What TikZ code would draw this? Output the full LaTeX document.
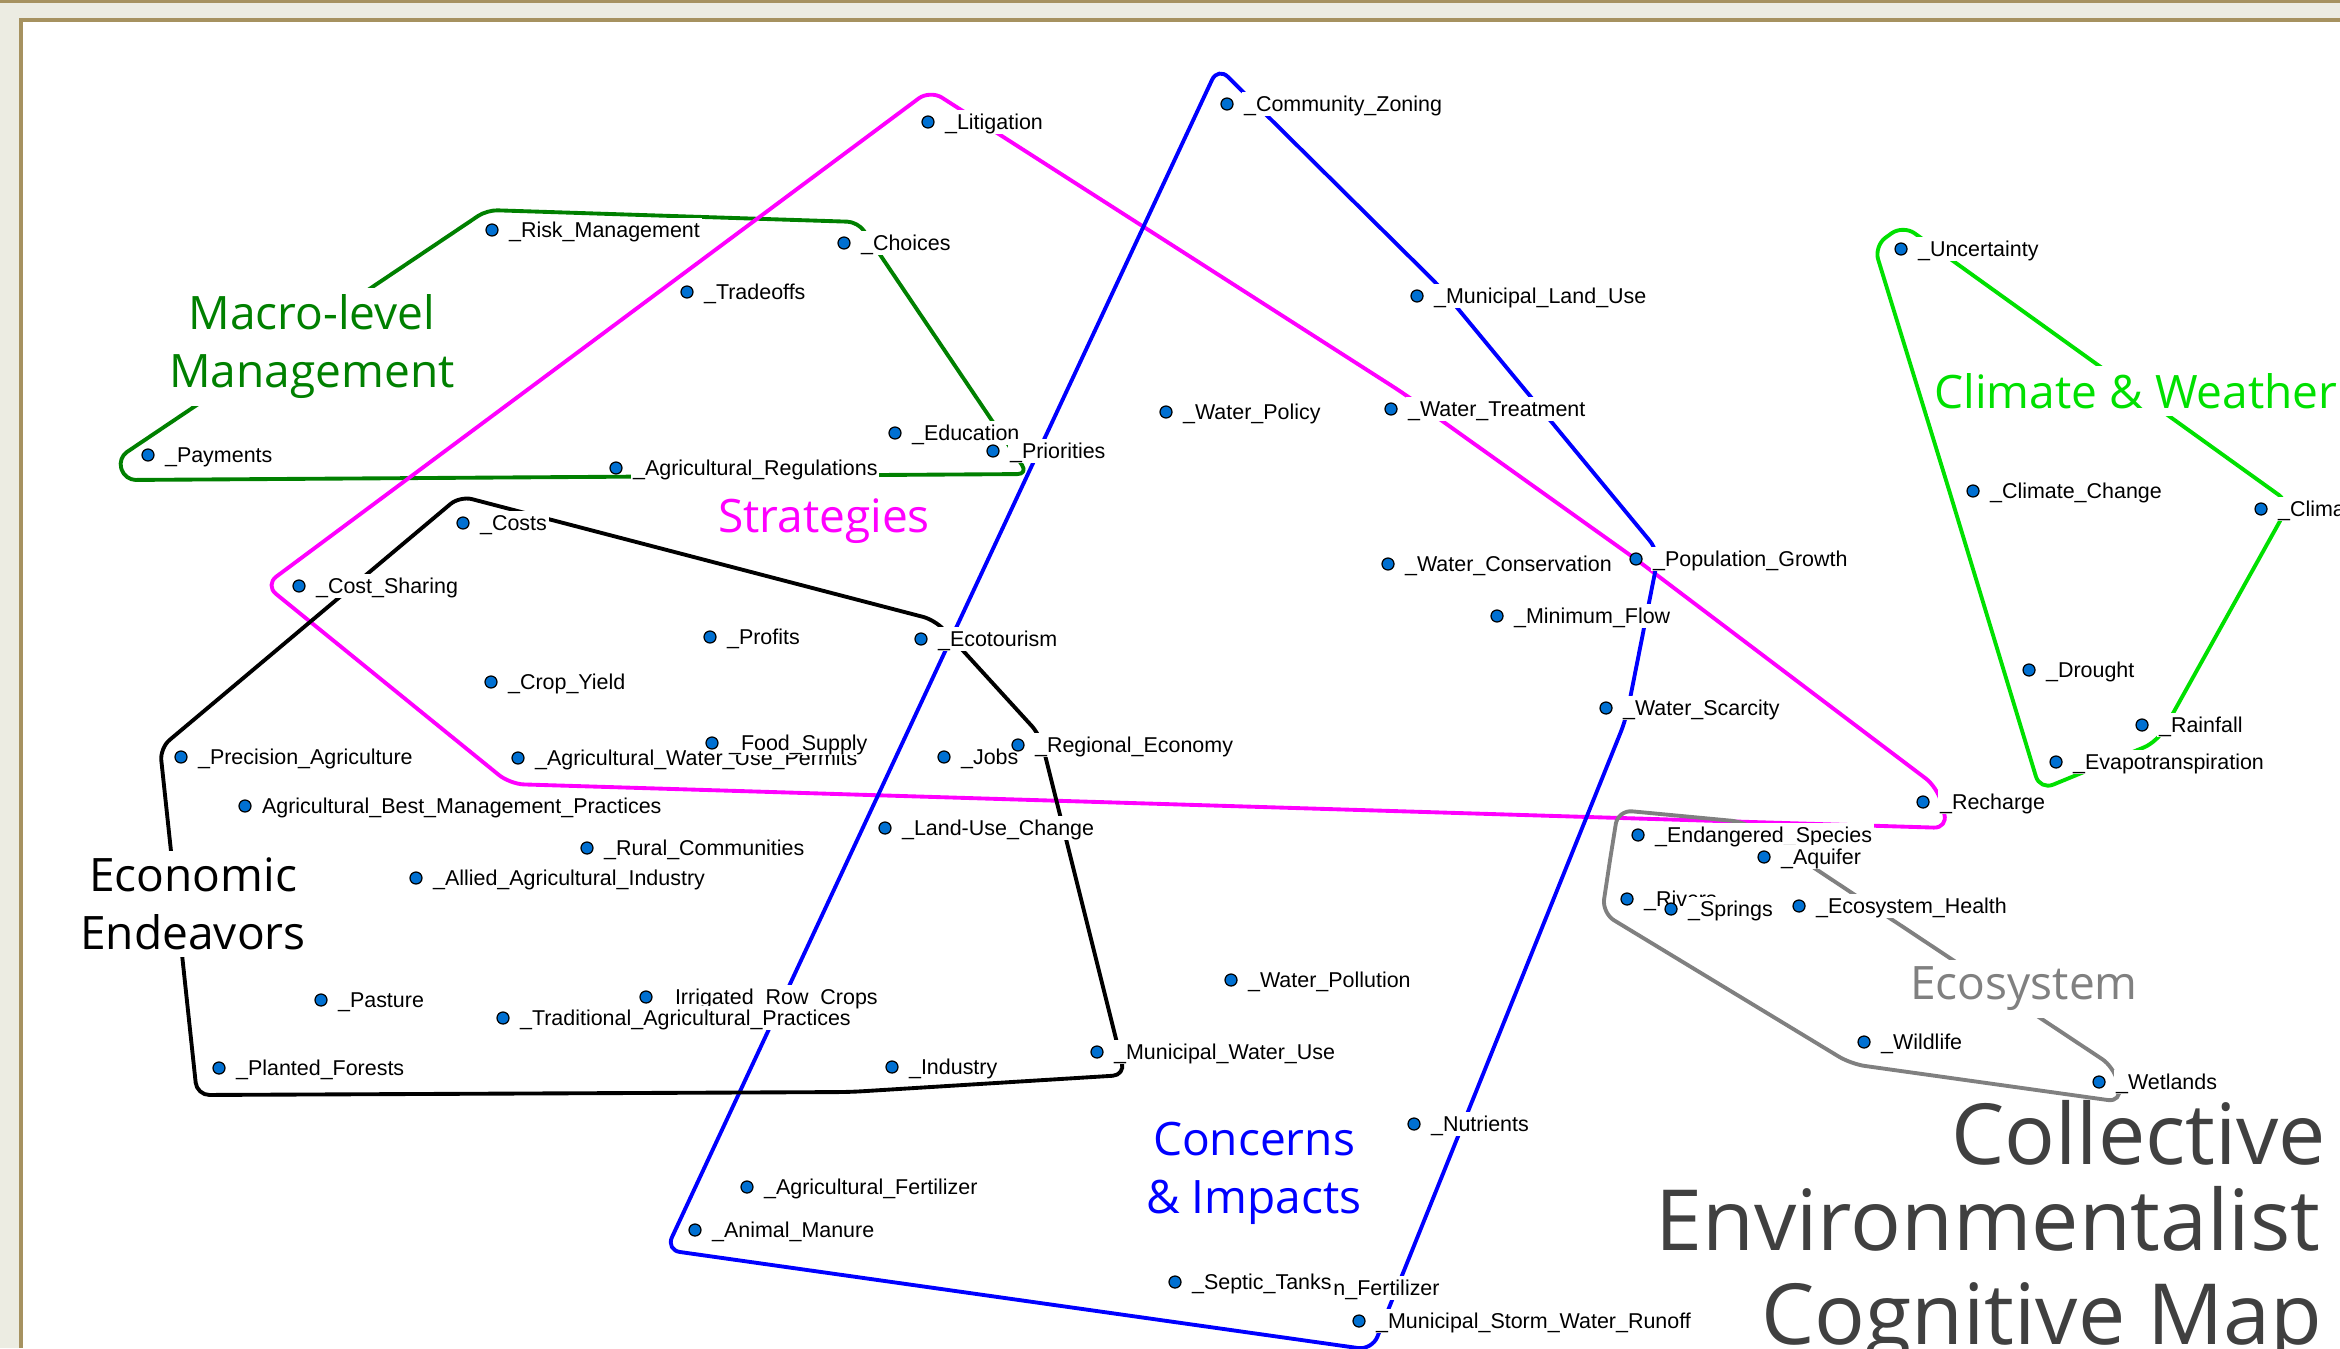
\documentclass[tikz,border=0pt]{standalone}
\usepackage{fontspec}
\setmainfont{Liberation Sans}
\newfontfamily\hullfont{Open Sans}
\usepackage{tikz}
\pgfdeclarelayer{background}
\pgfsetlayers{background,main}

\definecolor{dotblue}{RGB}{0,112,210}
\definecolor{macrogreen}{RGB}{0,128,0}
\definecolor{stratmagenta}{RGB}{255,0,255}
\definecolor{concernblue}{RGB}{0,0,255}
\definecolor{climatelime}{RGB}{0,224,0}
\definecolor{ecogray}{RGB}{128,128,128}
\definecolor{titlegray}{RGB}{64,64,64}
\definecolor{panelgray}{RGB}{236,236,226}
\definecolor{framebrown}{RGB}{166,146,96}

\begin{document}
\begin{tikzpicture}[x=0.01cm, y=-0.01cm, label distance=0.08cm,
  concept/.style={circle, draw=black, line width=0.35pt, fill=dotblue, inner sep=0pt, minimum size=0.12cm},
  lbl/.style={font=\fontsize{6.1}{7}\selectfont, fill=white, inner xsep=0.5pt, inner ysep=0pt, text height=5.5pt, text depth=1.3pt},
  hull/.style={line width=1.1pt, line join=round, rounded corners=4pt},
  grouplbl/.style={font=\hullfont\fontsize{13.1}{16.5}\selectfont, align=center, fill=white, inner sep=2pt},
  titleline/.style={font=\hullfont\fontsize{24}{26}\selectfont, text=titlegray, anchor=base east, inner sep=0pt}]
  \useasboundingbox (0,0) rectangle (2340,1348);

  % Macro-level Management
  \node[concept, label={[lbl]right:\_Risk\_Management}] (riskmgmt) at (492,230) {};
  \node[concept, label={[lbl]right:\_Tradeoffs}] (tradeoffs) at (687,292) {};
  \node[concept, label={[lbl]right:\_Choices}] (choices) at (844,243) {};
  \node[concept, label={[lbl]right:\_Payments}] (payments) at (148,455) {};
  \node[concept, label={[lbl]right:\_Agricultural\_Regulations}] (agregs) at (616,468) {};
  \node[concept, label={[lbl]right:\_Education}] (education) at (895,433) {};
  \node[concept, label={[lbl]right:\_Priorities}] (priorities) at (993,451) {};

  % Strategies
  \node[concept, label={[lbl]right:\_Litigation}] (litigation) at (928,122) {};
  \node[concept, label={[lbl]right:\_Cost\_Sharing}] (costsharing) at (299,586) {};
  \node[concept, label={[lbl]right:\_Profits}] (profits) at (710,637) {};
  \node[concept, label={[lbl]right:\_Crop\_Yield}] (cropyield) at (491,682) {};
  \node[concept, label={[lbl]right:\_Agricultural\_Water\_Use\_Permits}] (waterpermits) at (518,758) {};
  \node[concept, label={[lbl]right:\_Food\_Supply}] (foodsupply) at (712,743) {};

  % Economic Endeavors
  \node[concept, label={[lbl]right:\_Costs}] (costs) at (463,523) {};
  \node[concept, label={[lbl]right:\_Ecotourism}] (ecotourism) at (921,639) {};
  \node[concept, label={[lbl]right:\_Jobs}] (jobs) at (944,757) {};
  \node[concept, label={[lbl]right:\_Regional\_Economy}] (regeconomy) at (1018,745) {};
  \node[concept, label={[lbl]right:\_Precision\_Agriculture}] (precisionag) at (181,757) {};
  \node[concept, label={[lbl]right:Agricultural\_Best\_Management\_Practices}] (bestpractices) at (245,806) {};
  \node[concept, label={[lbl]right:\_Land-Use\_Change}] (landuse) at (885,828) {};
  \node[concept, label={[lbl]right:\_Rural\_Communities}] (ruralcomm) at (587,848) {};
  \node[concept, label={[lbl]right:\_Allied\_Agricultural\_Industry}] (alliedind) at (416,878) {};
  \node[concept, label={[lbl]right:\_Pasture}] (pasture) at (321,1000) {};
  \node[concept, label={[lbl]right:\_Irrigated\_Row\_Crops}] (rowcrops) at (646,997) {};
  \node[concept, label={[lbl]right:\_Traditional\_Agricultural\_Practices}] (tradpractices) at (503,1018) {};
  \node[concept, label={[lbl]right:\_Planted\_Forests}] (plantedforests) at (219,1068) {};
  \node[concept, label={[lbl]right:\_Industry}] (industry) at (892,1067) {};
  \node[concept, label={[lbl]right:\_Municipal\_Water\_Use}] (municwateruse) at (1097,1052) {};

  % Concerns & Impacts
  \node[concept, label={[lbl]right:\_Community\_Zoning}] (commzoning) at (1227,104) {};
  \node[concept, label={[lbl]right:\_Municipal\_Land\_Use}] (municlanduse) at (1417,296) {};
  \node[concept, label={[lbl]right:\_Water\_Policy}] (waterpolicy) at (1166,412) {};
  \node[concept, label={[lbl]right:\_Water\_Treatment}] (watertreatment) at (1391,409) {};
  \node[concept, label={[lbl]right:\_Water\_Conservation}] (waterconserv) at (1388,564) {};
  \node[concept, label={[lbl]right:\_Population\_Growth}] (popgrowth) at (1636,559) {};
  \node[concept, label={[lbl]right:\_Minimum\_Flow}] (minflow) at (1497,616) {};
  \node[concept, label={[lbl]right:\_Water\_Scarcity}] (waterscarcity) at (1606,708) {};
  \node[concept, label={[lbl]right:\_Water\_Pollution}] (waterpollution) at (1231,980) {};
  \node[concept, label={[lbl]right:\_Nutrients}] (nutrients) at (1414,1124) {};
  \node[concept, label={[lbl]right:\_Agricultural\_Fertilizer}] (agfertilizer) at (747,1187) {};
  \node[concept, label={[lbl]right:\_Animal\_Manure}] (animalmanure) at (695,1230) {};
  \node[concept, label={[lbl]right:\_Septic\_Tanks}] (septictanks) at (1175,1282) {};
  \node[lbl, anchor=west] (lawnfert) at (1331,1288) {n\_Fertilizer};
  \node[concept, label={[lbl]right:\_Municipal\_Storm\_Water\_Runoff}] (stormrunoff) at (1359,1321) {};

  % Climate & Weather
  \node[concept, label={[lbl]right:\_Uncertainty}] (uncertainty) at (1901,249) {};
  \node[concept, label={[lbl]right:\_Climate\_Change}] (climchange) at (1973,491) {};
  \node[concept, label={[lbl]right:\_Clima}] (clima) at (2261,509) {};
  \node[concept, label={[lbl]right:\_Drought}] (drought) at (2029,670) {};
  \node[concept, label={[lbl]right:\_Rainfall}] (rainfall) at (2142,725) {};
  \node[concept, label={[lbl]right:\_Evapotranspiration}] (evapo) at (2056,762) {};
  \node[concept, label={[lbl]right:\_Recharge}] (recharge) at (1923,802) {};

  % Ecosystem
  \node[concept, label={[lbl]right:\_Endangered\_Species}] (endangered) at (1638,835) {};
  \node[concept, label={[lbl]right:\_Aquifer}] (aquifer) at (1764,857) {};
  \node[concept, label={[lbl]right:\_Rivers}] (rivers) at (1627,899) {};
  \node[concept, label={[lbl]right:\_Springs}] (springs) at (1671,909) {};
  \node[concept, label={[lbl]right:\_Ecosystem\_Health}] (ecohealth) at (1799,906) {};
  \node[concept, label={[lbl]right:\_Wildlife}] (wildlife) at (1864,1042) {};
  \node[concept, label={[lbl]right:\_Wetlands}] (wetlands) at (2099,1082) {};

  % group names
  \node[grouplbl, text=macrogreen] (macrolbl) at (312,347) {Macro-level\\Management};
  \node[grouplbl, text=stratmagenta] (stratlbl) at (824,521) {Strategies};
  \node[grouplbl, text=black] (econlbl) at (193,904) {Economic\\Endeavors};
  \node[grouplbl, text=concernblue] (concernlbl) at (1254,1173) {Concerns\\\& Impacts};
  \node[grouplbl, text=climatelime] (climatelbl) at (2136,391) {Climate \& Weather};
  \node[grouplbl, text=ecogray] (ecolbl) at (2024,989) {Ecosystem};

  \node[titleline] (titletop) at (2327,1164) {Collective};
  \node[titleline] (titlemid) at (2321,1250) {Environmentalist};
  \node[titleline] (titlebot) at (2323,1344) {Cognitive Map};

  \begin{pgfonlayer}{background}
    % window frame
    \fill[panelgray] (0,0) rectangle (2340,1348);
    \fill[white] (21,20) rectangle (2340,1348);
    \draw[framebrown, line width=0.9pt] (0,1.5) -- (2340,1.5);
    \draw[framebrown, line width=0.9pt] (21,1348) -- (21,20) -- (2340,20);
    % group outlines
    \draw[hull, macrogreen, rounded corners=3pt] (286,345) -- (487,210) -- (858,222) -- (1028,474) -- (125,480) -- (118,458) -- (286,345);
    \draw[hull, stratmagenta] (597,338) -- (930,90) -- (1403,393) -- (1637,560) -- (1937,787) -- (1948,828) -- (510,784) -- (265,585) -- (597,338);
    \draw[hull, concernblue] (942,658) -- (1218,67) -- (1440,287) -- (1659,552) -- (1626,719) -- (1372,1350) -- (666,1250) -- (942,658);
    \draw[hull, black, rounded corners=3.5pt] (310,622) -- (460,496) -- (935,620) -- (1040,735) -- (1125,1075) -- (850,1092) -- (197,1095) -- (160,748) -- (310,622);
    \draw[hull, climatelime] (1949,490) -- (1874,246) -- (1903,225) -- (2290,503) -- (2157,742) -- (2040,790) -- (1949,490);
    \draw[hull, ecogray] (1610,860) -- (1618,810) -- (1745,822) -- (2114,1067) -- (2122,1102) -- (1851,1064) -- (1602,913) -- (1610,860);
  \end{pgfonlayer}
\end{tikzpicture}
\end{document}
